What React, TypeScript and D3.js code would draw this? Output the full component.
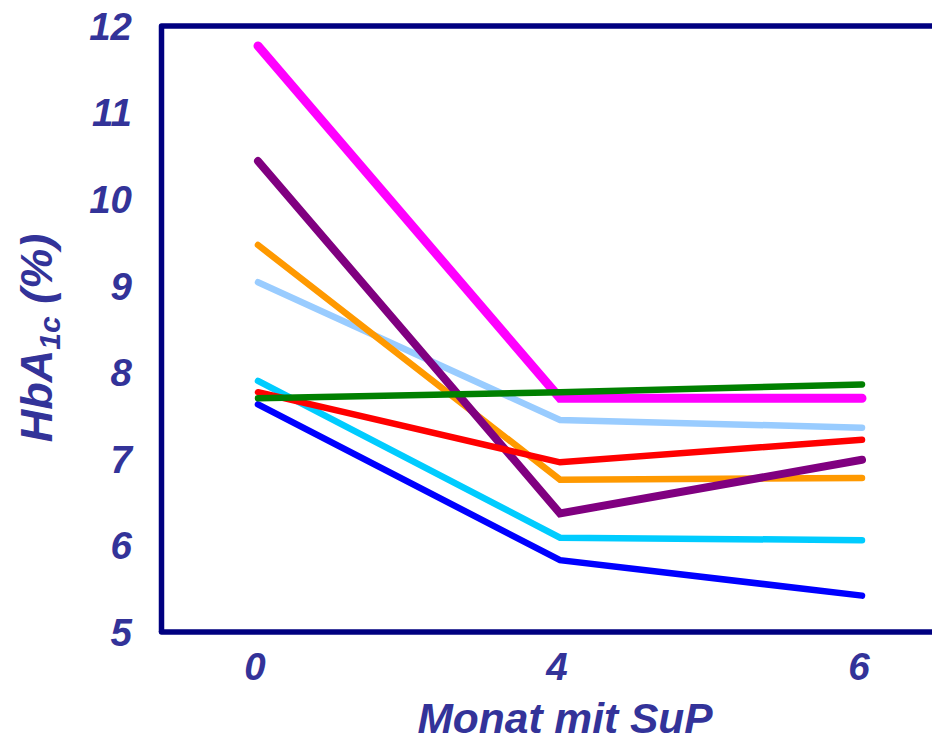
import React from "react";
import * as d3 from "d3";

const months = ["0", "4", "6"];
const yTicks = [5, 6, 7, 8, 9, 10, 11, 12];

const blue = [7.63, 5.83, 5.42];
const cyan = [7.9, 6.09, 6.06];
const lightBlue = [9.04, 7.45, 7.36];
const orange = [9.47, 6.76, 6.78];
const purple = [10.44, 6.37, 6.99];
const magenta = [11.77, 7.7, 7.7];
const red = [7.77, 6.96, 7.22];
const green = [7.7, 7.77, 7.86];

const series = [
  { name: "blue", values: blue, color: "#0000FF", w: 6.5 },
  { name: "cyan", values: cyan, color: "#00CCFF", w: 6.5 },
  { name: "lightBlue", values: lightBlue, color: "#99CCFF", w: 6.5 },
  { name: "orange", values: orange, color: "#FF9900", w: 6.5 },
  { name: "purple", values: purple, color: "#800080", w: 8 },
  { name: "magenta", values: magenta, color: "#FF00FF", w: 9 },
  { name: "red", values: red, color: "#FF0000", w: 6.5 },
  { name: "green", values: green, color: "#008000", w: 6.5 },
];

const W = 932;
const H = 738;
const left = 161.5;
const top = 26;
const bottom = 632;

export default function App() {
  const x = d3.scalePoint<string>().domain(months).range([258, 862]);
  const y = d3.scaleLinear().domain([5, 12]).range([bottom, top]);
  const line = d3
    .line<number>()
    .x((_, i) => x(months[i]) as number)
    .y((d) => y(d));
  const font = "'Liberation Sans', Arial, sans-serif";
  const txt = "#333399";
  return (
    <svg
      width={W}
      height={H}
      style={{ position: "absolute", left: 0, top: 0, background: "#fff" }}
    >
      {series.map((s) => (
        <path
          key={s.name}
          d={line(s.values) || ""}
          fill="none"
          stroke={s.color}
          strokeWidth={s.w}
          strokeLinecap="round"
          strokeLinejoin="miter"
        />
      ))}
      <path
        d={`M${left},${bottom}V${top}H${W + 5}`}
        fill="none"
        stroke="#000080"
        strokeWidth={5.5}
        strokeLinejoin="round"
      />
      <path
        d={`M${left},${bottom}H${W + 5}`}
        fill="none"
        stroke="#000080"
        strokeWidth={5.5}
        strokeLinecap="round"
      />
      {yTicks.map((t) => (
        <text
          key={t}
          x={132}
          y={y(t)}
          dy="0.36em"
          textAnchor="end"
          fontFamily={font}
          fontWeight="bold"
          fontStyle="italic"
          fontSize={38.5}
          fill={txt}
        >
          {t}
        </text>
      ))}
      {months.map((m) => (
        <text
          key={m}
          x={(x(m) as number) - 3}
          y={680}
          textAnchor="middle"
          fontFamily={font}
          fontWeight="bold"
          fontStyle="italic"
          fontSize={38.5}
          fill={txt}
        >
          {m}
        </text>
      ))}
      <text
        x={565}
        y={733}
        textAnchor="middle"
        fontFamily={font}
        fontWeight="bold"
        fontStyle="italic"
        fontSize={42.5}
        fill={txt}
      >
        Monat mit SuP
      </text>
      <text
        transform={`translate(52,${338}) rotate(-90)`}
        textAnchor="middle"
        fontFamily={font}
        fontWeight="bold"
        fontStyle="italic"
        fontSize={45}
        fill={txt}
      >
        HbA
        <tspan fontSize={30} dy={8}>
          1c
        </tspan>
        <tspan dy={-8}> (%)</tspan>
      </text>
    </svg>
  );
}
